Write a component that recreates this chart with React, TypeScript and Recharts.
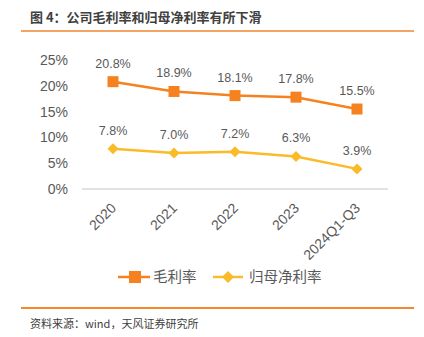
import React from "react";
import { LineChart, Line, XAxis, YAxis, CartesianGrid, LabelList } from "recharts";

const categories = ["2020", "2021", "2022", "2023", "2024Q1-Q3"];
const grossMargin = [20.8, 18.9, 18.1, 17.8, 15.5];
const netMargin = [7.8, 7.0, 7.2, 6.3, 3.9];
const yTicks = [0, 5, 10, 15, 20, 25];
const seriesNames = ["毛利率", "归母净利率"];
const title = "图 4：公司毛利率和归母净利率有所下滑";
const source = "资料来源：wind，天风证券研究所";

const ORANGE = "#F5821F";
const YELLOW = "#FBBA28";
const TEXT = "#595959";
const FONT = "'Liberation Sans', 'Noto Sans CJK SC', sans-serif";

const data = categories.map((c, i) => ({ name: c, gross: grossMargin[i], net: netMargin[i] }));

const SquareDot = (props: any) => {
  const { cx, cy } = props;
  if (cx == null || cy == null) return null;
  return <rect x={cx - 5.5} y={cy - 5.5} width={11} height={11} fill={ORANGE} />;
};
const DiamondDot = (props: any) => {
  const { cx, cy } = props;
  if (cx == null || cy == null) return null;
  const r = 5.5;
  return <polygon points={`${cx},${cy - r} ${cx + r},${cy} ${cx},${cy + r} ${cx - r},${cy}`} fill={YELLOW} />;
};

const XTick = (props: any) => {
  const { x, y, payload } = props;
  return (
    <g transform={`translate(${x + 4},${y + 12})`}>
      <text x={0} y={0} textAnchor="end" transform="rotate(-45)" fill={TEXT} fontSize={14} fontFamily={FONT}>
        {payload.value}
      </text>
    </g>
  );
};

const pct = (v: any) => `${Number(v).toFixed(1)}%`;

export default function App() {
  return (
    <div style={{ position: "absolute", left: 0, top: 0, width: 424, height: 337, background: "#fff", fontFamily: FONT }}>
      <div style={{ position: "absolute", left: 30, top: 8, fontSize: 13, fontWeight: 700, color: "#404040", fontFamily: "'Noto Sans CJK SC', sans-serif", whiteSpace: "nowrap", lineHeight: "18px" }}>
        {title}
      </div>
      <div style={{ position: "absolute", left: 21, top: 30, width: 393, height: 2, background: "#F4A462" }} />
      <div style={{ position: "absolute", left: 0, top: 0 }}>
        <LineChart width={424} height={337} data={data} margin={{ top: 60, right: 36, bottom: 0, left: 0 }}>
          <CartesianGrid horizontal={false} vertical={false} />
          <XAxis
            dataKey="name"
            height={148}
            interval={0}
            padding={{ left: 31, right: 31 }}
            axisLine={{ stroke: "#D9D9D9", strokeWidth: 1.5 }}
            tickLine={false}
            tick={<XTick />}
          />
          <YAxis
            width={82}
            domain={[0, 25]}
            ticks={yTicks}
            axisLine={false}
            tickLine={false}
            tickSize={0}
            tickMargin={14}
            tickFormatter={(v: number) => `${v}%`}
            tick={{ fill: TEXT, fontSize: 14, fontFamily: FONT }}
          />
          <Line dataKey="gross" stroke={ORANGE} strokeWidth={2.5} dot={<SquareDot />} activeDot={false} isAnimationActive={false}>
            <LabelList dataKey="gross" position="top" offset={14} formatter={pct} fill={TEXT} fontSize={12.5} fontFamily={FONT} />
          </Line>
          <Line dataKey="net" stroke={YELLOW} strokeWidth={2.5} dot={<DiamondDot />} activeDot={false} isAnimationActive={false}>
            <LabelList dataKey="net" position="top" offset={14} formatter={pct} fill={TEXT} fontSize={12.5} fontFamily={FONT} />
          </Line>
        </LineChart>
      </div>
      <svg style={{ position: "absolute", left: 0, top: 265 }} width={424} height={24}>
        <line x1={118} y1={12} x2={150} y2={12} stroke={ORANGE} strokeWidth={2.5} />
        <rect x={129} y={6} width={12} height={12} fill={ORANGE} />
        <text x={153} y={17} fill={TEXT} fontSize={14.5} fontFamily="'Noto Sans CJK SC', sans-serif">{seriesNames[0]}</text>
        <line x1={213} y1={12} x2={243} y2={12} stroke={YELLOW} strokeWidth={2.5} />
        <polygon points="228,6 234,12 228,18 222,12" fill={YELLOW} />
        <text x={249} y={17} fill={TEXT} fontSize={14.5} fontFamily="'Noto Sans CJK SC', sans-serif">{seriesNames[1]}</text>
      </svg>
      <div style={{ position: "absolute", left: 21, top: 307, width: 393, height: 1.5, background: "#F5882A" }} />
      <div style={{ position: "absolute", left: 30, top: 315, fontSize: 11, color: "#404040", fontFamily: "'Noto Sans CJK SC', sans-serif", whiteSpace: "nowrap", lineHeight: "16px" }}>
        {source}
      </div>
    </div>
  );
}
